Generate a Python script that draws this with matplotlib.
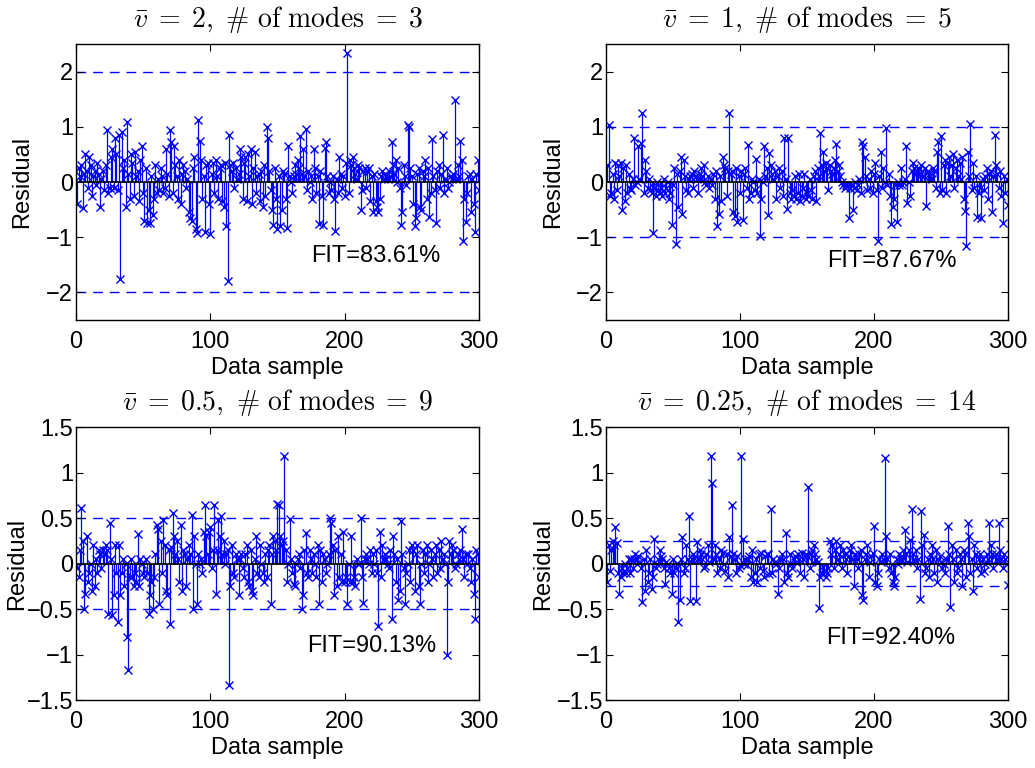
import matplotlib
matplotlib.use('Agg')
import matplotlib.pyplot as plt
from matplotlib.ticker import FuncFormatter
import numpy as np

plt.rcParams['font.family'] = 'Liberation Sans'
plt.rcParams['mathtext.fontset'] = 'cm'
plt.rcParams['axes.unicode_minus'] = True

# residuals (sample 1..300)
res_v2 = [
    -0.4, 0.25, 0.1, 0.3, -0.47, 0.15, 0.5, 0.2, -0.1, 0.45,
    0.3, -0.25, 0.1, 0.2, -0.05, 0.35, 0.15, -0.45, 0.05, 0.2,
    -0.15, 0.3, 0.94, -0.2, -0.1, 0.45, 0.6, -0.1, 0.8, 0.5,
    -0.15, 0.85, -1.76, 0.9, 0.25, 0.4, -0.45, 1.09, 0.15, -0.3,
    0.5, 0.35, -0.25, 0.55, 0.1, 0.2, -0.35, 0.4, 0.65, -0.2,
    -0.7, 0.25, -0.74, -0.5, -0.75, 0.1, -0.6, -0.3, 0.3, -0.2,
    0.05, -0.15, 0.25, 0.1, -0.2, -0.1, 0.6, 0.15, -0.25, 0.94,
    0.72, -0.2, 0.65, 0.3, 0.1, -0.3, 0.4, -0.4, 0.15, 0.3,
    0.2, -0.1, 0.05, -0.55, -0.65, -0.71, 0.25, 0.45, -0.85, -0.92,
    1.12, 0.75, 0.4, -0.3, 0.1, -0.9, 0.3, 0.35, -0.4, -0.95,
    0.15, 0.35, -0.2, 0.4, 0.1, -0.3, 0.25, 0.3, -0.35, -0.45,
    0.35, -0.8, -1.8, 0.85, 0.3, 0.2, 0.35, -0.1, 0.25, 0.05,
    0.15, 0.6, 0.45, -0.3, 0.35, 0.45, -0.35, 0.5, 0.1, 0.6,
    -0.4, 0.25, 0.55, -0.2, 0.1, 0.15, -0.35, 0.2, -0.45, 0.3,
    -0.25, 1.0, 0.8, 0.2, -0.15, -0.5, -0.78, 0.25, -0.3, -0.85,
    0.1, -0.8, -0.5, 0.2, 0.15, -0.3, -0.83, 0.66, 0.1, 0.0,
    -0.2, 0.1, 0.3, 0.15, 0.4, 0.25, 0.83, 0.15, 0.6, 0.1,
    0.96, -0.15, 0.2, 0.0, 0.1, -0.3, 0.6, 0.25, -0.2, 0.1,
    -0.76, 0.2, -0.25, -0.78, 0.62, 0.72, 0.1, -0.2, 0.0, -0.15,
    0.1, -0.3, -0.88, 0.05, -0.2, 0.45, 0.15, -0.1, 0.1, -0.25,
    0.35, 2.34, -0.2, 0.4, 0.3, 0.45, 0.25, 0.15, 0.05, 0.3,
    0.25, -0.5, -0.15, 0.2, 0.25, -0.1, 0.2, 0.25, -0.35, 0.1,
    -0.55, 0.15, -0.35, -0.45, -0.55, -0.3, 0.1, 0.2, 0.05, 0.15,
    0.1, 0.05, 0.2, 0.1, 0.72, 0.3, 0.15, 0.4, 0.0, 0.25,
    -0.1, -0.77, -0.55, 0.3, 0.1, -0.05, 1.03, 1.0, 0.25, 0.1,
    -0.4, -0.8, -0.65, 0.15, 0.25, -0.45, -0.5, 0.2, 0.1, 0.4,
    -0.3, 0.25, -0.63, -0.2, 0.78, 0.1, -0.15, -0.74, 0.2, 0.3,
    -0.1, 0.15, 0.85, -0.2, 0.05, 0.25, -0.1, 0.0, 0.1, 0.05,
    0.15, 1.49, 0.05, 0.3, 0.1, 0.74, 0.4, -1.07, -0.3, -0.73,
    -0.2, 0.1, 0.15, -0.55, 0.05, -0.4, -0.9, 0.15, 0.4, -0.15,
]

res_v1 = [
    0.3, 1.03, -0.25, -0.2, 0.15, -0.3, 0.35, -0.15, 0.3, 0.1,
    0.35, -0.5, 0.25, -0.35, 0.3, -0.2, 0.15, -0.1, -0.15, 0.05,
    0.79, -0.05, 0.0, 0.66, 0.05, 0.7, 1.25, -0.2, 0.4, 0.2,
    -0.1, 0.05, -0.15, -0.2, -0.92, -0.1, -0.25, 0.0, -0.15, -0.2,
    -0.1, -0.25, 0.05, -0.2, -0.1, 0.0, -0.3, -0.2, -0.78, -0.05,
    0.25, -1.12, 0.15, -0.45, 0.2, 0.45, -0.58, 0.4, 0.1, -0.15,
    -0.2, 0.05, 0.1, 0.15, -0.1, 0.2, 0.1, 0.05, -0.2, 0.15,
    0.25, 0.1, 0.3, 0.0, -0.05, 0.1, -0.1, 0.05, -0.05, 0.15,
    -0.3, 0.2, -0.8, -0.58, 0.1, -0.35, 0.45, 0.3, 0.25, -0.25,
    0.2, 1.25, 0.15, 0.2, -0.55, -0.62, 0.25, -0.72, 0.1, -0.2,
    0.2, -0.68, 0.15, 0.25, -0.1, 0.67, -0.3, -0.2, 0.05, 0.0,
    -0.15, 0.42, -0.2, 0.05, -0.97, -0.3, 0.0, 0.66, 0.1, 0.25,
    -0.6, 0.53, 0.3, 0.15, 0.05, 0.2, -0.3, 0.1, 0.25, -0.1,
    0.2, -0.25, 0.8, 0.05, -0.48, 0.79, -0.2, -0.3, -0.15, -0.25,
    0.1, -0.3, -0.2, 0.15, -0.35, -0.25, -0.1, 0.15, -0.3, -0.2,
    -0.25, 0.05, -0.15, -0.3, 0.1, 0.2, -0.35, 0.25, 0.1, 0.88,
    0.3, 0.55, 0.2, 0.35, 0.25, -0.15, 0.3, 0.2, 0.15, 0.25,
    0.4, 0.69, 0.2, 0.3, 0.1, 0.0, -0.05, -0.1, -0.05, -0.08,
    -0.66, -0.1, -0.05, -0.5, -0.1, 0.0, -0.15, -0.05, 0.05, -0.2,
    0.72, 0.65, 0.45, 0.1, -0.15, 0.05, -0.1, 0.2, -0.2, 0.15,
    0.35, -0.15, -1.07, 0.1, 0.55, -0.1, 0.25, 0.0, 0.98, -0.05,
    0.15, -0.25, -0.76, -0.45, -0.3, -0.05, -0.73, 0.0, -0.05, 0.25,
    -0.05, 0.0, 0.05, 0.65, -0.38, 0.0, -0.25, 0.2, 0.35, 0.25,
    0.15, 0.2, 0.25, 0.15, 0.3, 0.2, 0.1, 0.25, -0.43, 0.2,
    0.15, 0.1, 0.05, 0.25, 0.2, -0.1, 0.55, 0.72, -0.2, 0.84,
    -0.15, 0.3, 0.4, -0.2, 0.35, 0.45, 0.1, 0.3, 0.5, -0.1,
    0.25, 0.4, 0.1, 0.35, 0.05, 0.45, -0.3, -0.52, -1.16, 0.55,
    0.1, 1.05, -0.15, 0.35, -0.1, 0.1, -0.63, -0.2, -0.1, -0.66,
    0.05, -0.15, 0.1, 0.25, -0.3, 0.15, 0.2, -0.55, 0.1, 0.86,
    0.3, 0.15, -0.1, 0.2, -0.25, -0.74, 0.1, -0.2, 0.05, -0.42,
]

res_v05 = [
    -0.05, -0.15, 0.15, 0.61, 0.25, -0.5, -0.33, 0.3, -0.2, -0.1,
    0.0, -0.3, 0.2, -0.25, 0.05, -0.1, 0.15, 0.1, -0.05, 0.15,
    0.1, 0.2, 0.15, -0.55, 0.45, 0.05, -0.57, -0.35, 0.2, -0.1,
    -0.64, 0.2, -0.35, -0.1, 0.05, -0.25, 0.0, -0.81, -1.17, -0.15,
    0.05, -0.15, -0.25, -0.1, -0.2, 0.32, -0.25, 0.05, 0.0, -0.1,
    -0.15, 0.05, -0.1, -0.55, -0.35, -0.2, -0.5, -0.15, 0.1, 0.42,
    0.38, -0.45, 0.25, -0.1, 0.48, 0.2, -0.3, -0.35, 0.15, -0.66,
    0.18, 0.55, 0.3, 0.1, 0.25, 0.05, -0.2, 0.42, -0.3, 0.15,
    0.1, -0.25, 0.05, 0.2, 0.1, 0.53, -0.5, 0.3, 0.0, -0.45,
    0.1, 0.0, 0.05, -0.1, 0.35, 0.64, 0.3, 0.1, 0.35, 0.4,
    -0.05, 0.15, 0.64, -0.34, 0.15, 0.48, 0.3, 0.52, 0.1, 0.25,
    0.0, 0.1, 0.15, -1.34, -0.25, 0.2, -0.1, -0.15, 0.1, 0.05,
    -0.35, 0.05, 0.1, -0.05, -0.15, 0.1, 0.2, -0.2, -0.25, 0.15,
    -0.3, -0.35, 0.05, 0.3, -0.1, -0.15, 0.2, 0.0, -0.1, -0.2,
    0.1, -0.15, 0.15, 0.2, -0.45, 0.1, 0.3, 0.25, 0.15, 0.65,
    0.64, 0.3, 0.2, 0.25, 1.18, 0.15, -0.2, 0.0, 0.49, 0.05,
    -0.1, -0.22, -0.25, 0.0, 0.05, 0.1, -0.05, -0.5, -0.35, 0.15,
    0.34, -0.1, -0.15, 0.15, 0.05, -0.1, 0.1, 0.0, -0.15, 0.2,
    -0.45, 0.15, -0.2, 0.1, 0.05, -0.1, 0.0, 0.1, 0.5, 0.45,
    0.2, -0.35, 0.15, -0.25, 0.3, -0.15, 0.1, -0.2, 0.35, -0.2,
    -0.15, -0.45, 0.0, -0.2, 0.3, -0.2, -0.15, -0.25, 0.05, 0.0,
    0.0, 0.5, -0.15, -0.43, 0.05, 0.1, 0.05, 0.0, 0.15, -0.1,
    0.1, 0.0, 0.15, -0.1, -0.69, 0.35, -0.15, 0.2, 0.05, 0.1,
    0.05, 0.0, -0.05, 0.15, -0.61, 0.3, 0.1, -0.2, 0.05, -0.4,
    -0.3, 0.47, 0.1, -0.05, -0.45, -0.1, 0.0, 0.15, -0.2, 0.2,
    0.15, -0.3, 0.1, 0.2, -0.25, -0.45, 0.0, 0.15, -0.1, 0.1,
    0.2, -0.2, 0.0, 0.15, 0.05, -0.15, 0.1, 0.2, -0.1, 0.15,
    -0.05, 0.25, 0.05, 0.1, 0.0, -1.01, -0.2, 0.25, 0.1, 0.2,
    0.15, -0.05, 0.0, 0.1, 0.05, 0.15, 0.38, 0.05, -0.15, 0.1,
    0.0, 0.1, -0.05, -0.2, 0.05, -0.34, -0.61, 0.15, 0.1, -0.15,
]

res_v025 = [
    -0.2, 0.2, -0.08, 0.15, 0.25, 0.2, 0.4, 0.22, -0.1, -0.33,
    -0.15, -0.05, -0.1, 0.0, -0.1, -0.05, 0.05, -0.1, 0.05, -0.05,
    0.05, 0.1, 0.05, 0.08, 0.02, -0.05, -0.42, 0.05, -0.3, 0.15,
    -0.2, -0.1, 0.05, -0.28, -0.15, 0.27, -0.05, 0.0, 0.05, 0.15,
    0.08, 0.05, -0.05, -0.22, 0.02, 0.0, -0.05, -0.1, -0.34, 0.05,
    -0.1, -0.05, 0.0, -0.64, -0.4, 0.05, 0.29, -0.1, -0.05, 0.2,
    0.05, 0.52, -0.41, 0.05, 0.1, 0.06, -0.41, 0.24, 0.05, 0.15,
    0.1, 0.05, -0.05, -0.03, 0.1, 0.2, 0.02, 1.18, 0.88, 0.05,
    0.2, 0.1, -0.1, 0.05, -0.05, 0.15, 0.12, 0.0, -0.08, 0.1,
    -0.15, 0.29, 0.08, 0.64, 0.1, 0.05, -0.1, 0.08, -0.05, -0.02,
    1.18, 0.27, 0.0, 0.05, -0.02, 0.05, 0.08, -0.15, 0.15, -0.2,
    -0.1, 0.05, -0.2, 0.1, -0.05, 0.12, -0.08, -0.15, 0.08, 0.1,
    0.1, -0.12, 0.6, -0.1, 0.05, 0.02, 0.0, -0.34, -0.05, 0.05,
    0.1, 0.05, -0.2, 0.33, -0.1, -0.15, 0.1, 0.0, -0.05, 0.05,
    0.08, 0.02, 0.1, 0.05, -0.1, 0.12, 0.05, -0.15, 0.1, 0.08,
    0.84, -0.05, 0.1, 0.15, 0.2, 0.1, 0.05, 0.02, -0.49, -0.15,
    -0.1, -0.12, -0.08, -0.15, -0.1, -0.05, 0.25, 0.1, 0.2, -0.05,
    0.15, 0.25, 0.05, 0.1, 0.2, -0.05, 0.15, 0.1, 0.05, -0.1,
    0.08, 0.15, 0.2, 0.05, -0.25, 0.1, 0.05, -0.05, 0.1, 0.15,
    -0.35, -0.4, 0.05, 0.1, 0.2, -0.15, 0.02, 0.08, 0.12, 0.41,
    -0.2, -0.25, -0.1, 0.05, 0.02, 0.1, 0.05, 1.16, 0.3, 0.05,
    -0.05, 0.1, -0.1, -0.2, -0.25, -0.15, 0.05, 0.0, 0.1, 0.05,
    0.08, 0.15, 0.37, 0.1, 0.02, 0.15, 0.26, 0.6, 0.1, 0.05,
    0.15, -0.05, 0.05, -0.39, 0.58, 0.2, 0.31, -0.1, -0.05, 0.05,
    -0.15, 0.1, 0.2, 0.05, -0.1, 0.15, -0.2, 0.05, 0.08, 0.02,
    -0.05, 0.0, -0.1, 0.05, 0.41, 0.1, -0.48, 0.2, 0.05, -0.2,
    0.15, -0.1, -0.05, 0.1, 0.05, -0.25, 0.15, 0.1, -0.15, 0.45,
    0.3, -0.1, 0.05, -0.3, 0.2, 0.1, -0.05, 0.05, 0.1, -0.1,
    0.05, -0.08, 0.0, 0.1, 0.05, 0.45, 0.2, 0.1, -0.05, 0.08,
    0.1, 0.05, 0.45, 0.15, 0.05, -0.05, 0.1, 0.05, 0.0, -0.24,
]

vbar = ['2', '1', '0.5', '0.25']
n_modes = [3, 5, 9, 14]
bounds = [2, 1, 0.5, 0.25]
fits = ['83.61', '87.67', '90.13', '92.40']
series = [res_v2, res_v1, res_v05, res_v025]
ylims = [2.5, 2.5, 1.5, 1.5]
yticks = [[-2, -1, 0, 1, 2], [-2, -1, 0, 1, 2],
          [-1.5, -1, -0.5, 0, 0.5, 1, 1.5], [-1.5, -1, -0.5, 0, 0.5, 1, 1.5]]
fit_pos = [(175, -1.34), (165, -1.43), (172, -0.91), (164, -0.82)]
ylabel_x = [-0.107, -0.104, -0.119, -0.129]

BLUE = '#0000ff'
FS = 17

fig = plt.figure(figsize=(10.35, 7.68), dpi=100)
boxes = [
    (0.0734, 0.5833, 0.3894, 0.3594),
    (0.5855, 0.5833, 0.3884, 0.3594),
    (0.0734, 0.0885, 0.3894, 0.3555),
    (0.5855, 0.0885, 0.3884, 0.3555),
]

for i, box in enumerate(boxes):
    ax = fig.add_axes(box)
    y = np.array(series[i])
    x = np.arange(1, len(y) + 1)

    markerline, stemlines, baseline = ax.stem(x, y, linefmt='-', markerfmt='x', basefmt=' ')
    markerline.set_color(BLUE)
    markerline.set_markersize(6)
    markerline.set_markeredgewidth(1.0)
    stemlines.set_color(BLUE)
    stemlines.set_linewidth(0.9)
    baseline.set_visible(False)

    ax.axhline(0, color='k', lw=1.2, zorder=3)
    for b in (bounds[i], -bounds[i]):
        ax.axhline(b, color=BLUE, lw=1.0, ls=(0, (7, 5)), zorder=1)

    ax.set_xlim(0, 300)
    ax.set_ylim(-ylims[i], ylims[i])
    ax.set_xticks([0, 100, 200, 300])
    ax.set_yticks(yticks[i])
    ax.yaxis.set_major_formatter(FuncFormatter(lambda v, p: ('%g' % v).replace('-', '\u2212')))
    ax.tick_params(direction='in', top=True, right=True, length=5, labelsize=FS, width=0.8)
    ax.tick_params(axis='x', pad=8)
    ax.tick_params(axis='y', pad=2)
    for s in ax.spines.values():
        s.set_linewidth(1.0)

    ax.set_xlabel('Data sample', fontsize=FS, labelpad=3)
    ax.set_ylabel('Residual', fontsize=FS)
    ax.yaxis.set_label_coords(ylabel_x[i], 0.5)
    ax.set_title(r'$\bar{v}\;=\;%s,\ \#\ \mathrm{of\ modes}\;=\;%d$' % (vbar[i], n_modes[i]),
                 fontsize=20, pad=12)
    ax.text(fit_pos[i][0], fit_pos[i][1], 'FIT=%s%%' % fits[i], fontsize=FS,
            ha='left', va='center')

fig.savefig('out.png', dpi=100, facecolor='white')
